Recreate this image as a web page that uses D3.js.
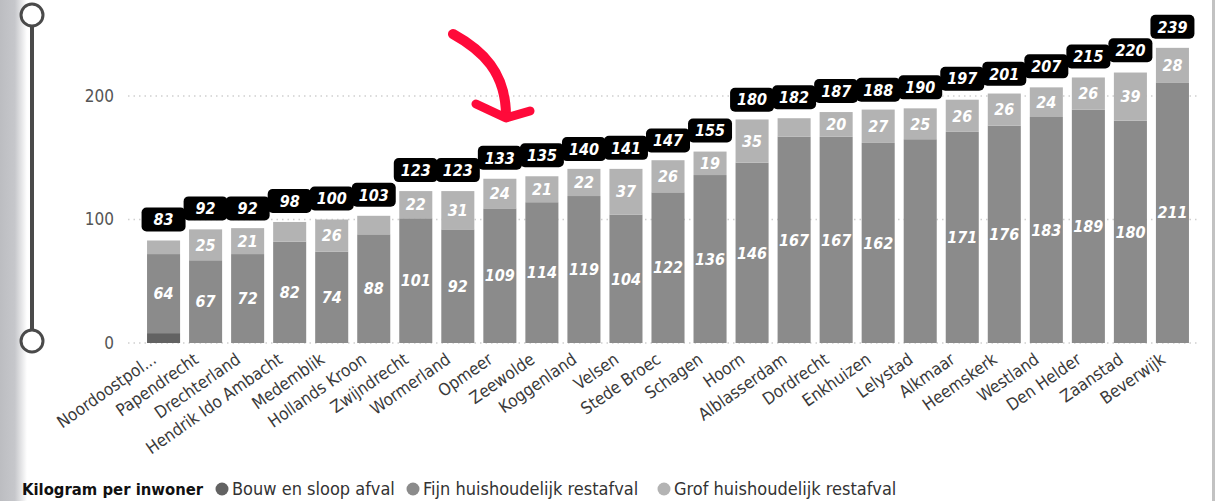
<!DOCTYPE html>
<html>
<head>
<meta charset="utf-8">
<script src="https://cdn.jsdelivr.net/npm/d3@7"></script>
<style>
    body { margin: 0; background: #fff; }
    svg { display: block; font-family: "DejaVu Sans Condensed", "DejaVu Sans", sans-serif; }
</style>
</head>
<body>
<div id="chart"></div>
<script>

// gemeentes, gesorteerd op totaal
var gemeentes = ["Noordoostpol...", "Papendrecht", "Drechterland", "Hendrik Ido Ambacht", "Medemblik",
    "Hollands Kroon", "Zwijndrecht", "Wormerland", "Opmeer", "Zeewolde", "Koggenland", "Velsen",
    "Stede Broec", "Schagen", "Hoorn", "Alblasserdam", "Dordrecht", "Enkhuizen", "Lelystad",
    "Alkmaar", "Heemskerk", "Westland", "Den Helder", "Zaanstad", "Beverwijk"];

var bouwSloop = [8, 0, 0, 0, 0, 0, 0, 0, 0, 0, 0, 0, 0, 0, 0, 0, 0, 0, 0, 0, 0, 0, 0, 0, 0];
var fijnRest  = [64, 67, 72, 82, 74, 88, 101, 92, 109, 114, 119, 104, 122, 136, 146, 167, 167, 162, 165, 171, 176, 183, 189, 180, 211];
var grofRest  = [11, 25, 21, 16, 26, 15, 22, 31, 24, 21, 22, 37, 26, 19, 35, 15, 20, 27, 25, 26, 26, 24, 26, 39, 28];
var totalen   = [83, 92, 92, 98, 100, 103, 123, 123, 133, 135, 140, 141, 147, 155, 180, 182, 187, 188, 190, 197, 201, 207, 215, 220, 239];

var yTicks = [0, 100, 200];

var reeksen = ["Bouw en sloop afval", "Fijn huishoudelijk restafval", "Grof huishoudelijk restafval"];
var kleuren = ["#626262", "#8b8b8b", "#b3b3b3"];

// labels die in het origineel niet getoond worden
var verborgen = { "Fijn huishoudelijk restafval": ["Lelystad"] };

var width = 1216, height = 501;

var svg = d3.select("#chart").append("svg")
    .attr("width", width)
    .attr("height", height);

// grijze rand links
var defs = svg.append("defs");
var grad = defs.append("linearGradient").attr("id", "randGrad");
grad.append("stop").attr("offset", "0%").attr("stop-color", "#bcbdc1");
grad.append("stop").attr("offset", "55%").attr("stop-color", "#c6c7cb");
grad.append("stop").attr("offset", "100%").attr("stop-color", "#ffffff");
svg.append("rect").attr("x", 0).attr("y", 0).attr("width", 27).attr("height", height)
    .attr("fill", "url(#randGrad)");

// rand rechts
svg.append("rect").attr("x", 1212).attr("y", 0).attr("width", 3).attr("height", height)
    .attr("fill", "#c2c2c2");

// slider
var slider = svg.append("g");
slider.append("line").attr("x1", 32).attr("x2", 32).attr("y1", 15).attr("y2", 341)
    .attr("stroke", "#4a4a4a").attr("stroke-width", 4);
[15, 341].forEach(function(cy) {
    slider.append("circle").attr("cx", 32).attr("cy", cy).attr("r", 11)
        .attr("fill", "#fff").attr("stroke", "#4a4a4a").attr("stroke-width", 3);
});

// data
var data = gemeentes.map(function(g, i) {
    var d = { gemeente: g, totaal: totalen[i] };
    d[reeksen[0]] = bouwSloop[i];
    d[reeksen[1]] = fijnRest[i];
    d[reeksen[2]] = grofRest[i];
    return d;
});

var x = d3.scaleBand()
    .domain(gemeentes)
    .range([142, 1194])
    .paddingInner(0.214)
    .paddingOuter(0.12);

var y = d3.scaleLinear()
    .domain([0, 200])
    .range([343, 96]);

var color = d3.scaleOrdinal().domain(reeksen).range(kleuren);

// gridlijnen
svg.append("g")
    .selectAll("line")
    .data(yTicks)
    .join("line")
    .attr("x1", 128).attr("x2", 1200)
    .attr("y1", d => y(d)).attr("y2", d => y(d))
    .attr("stroke", "#cfcfcf")
    .attr("stroke-width", 1.5)
    .attr("stroke-dasharray", "1.5,4");

// y-as
var yAxis = d3.axisLeft(y).tickValues(yTicks).tickSize(0).tickPadding(0);
svg.append("g")
    .attr("class", "y-axis")
    .attr("transform", "translate(114,0)")
    .call(yAxis)
    .call(g => g.select(".domain").remove())
    .selectAll("text")
    .attr("font-size", 17)
    .attr("font-family", "DejaVu Sans Condensed, sans-serif")
    .attr("fill", "#555");

// gestapelde balken
var stack = d3.stack().keys(reeksen);
var series = stack(data);

var groepen = svg.append("g")
    .selectAll("g")
    .data(series)
    .join("g")
    .attr("fill", d => color(d.key));

groepen.selectAll("rect")
    .data(d => d)
    .join("rect")
    .attr("x", d => x(d.data.gemeente))
    .attr("width", x.bandwidth())
    .attr("y", d => y(d[1]))
    .attr("height", d => y(d[0]) - y(d[1]));

// waardes in de segmenten
groepen.each(function(s) {
    var key = s.key;
    d3.select(this).selectAll("text")
        .data(s.filter(function(d) {
            var v = d[1] - d[0];
            var hide = (verborgen[key] || []).indexOf(d.data.gemeente) >= 0;
            return key !== reeksen[0] && v >= 18 && !hide;
        }))
        .join("text")
        .attr("x", d => x(d.data.gemeente) + x.bandwidth() / 2)
        .attr("y", d => (y(d[0]) + y(d[1])) / 2)
        .attr("dy", "0.36em")
        .attr("text-anchor", "middle")
        .attr("fill", "#fff")
        .attr("font-size", 16)
        .attr("font-weight", "bold")
        .attr("font-style", "italic")
        .text(d => Math.round(d[1] - d[0]));
});

// totaal labels
var tot = svg.append("g")
    .selectAll("g")
    .data(data)
    .join("g")
    .attr("transform", d => "translate(" + (x(d.gemeente) + x.bandwidth() / 2) + "," + (y(d.totaal) - 21) + ")");

tot.append("rect")
    .attr("x", -22).attr("y", -12)
    .attr("width", 44).attr("height", 24)
    .attr("rx", 5)
    .attr("fill", "#000");

tot.append("text")
    .attr("dy", "0.36em")
    .attr("text-anchor", "middle")
    .attr("fill", "#fff")
    .attr("font-size", 16)
    .attr("font-weight", "bold")
    .attr("font-style", "italic")
    .text(d => d.totaal);

// x labels
svg.append("g")
    .selectAll("text")
    .data(gemeentes)
    .join("text")
    .attr("transform", d => "translate(" + (x(d) + x.bandwidth() / 2 - 6) + ",362) rotate(-35)")
    .attr("text-anchor", "end")
    .attr("font-size", 17)
    .attr("fill", "#3a3a3a")
    .text(d => d);

// legenda
var legend = svg.append("g").attr("transform", "translate(0,495)");
legend.append("text")
    .attr("x", 22)
    .attr("font-size", 16.5)
    .attr("font-weight", "bold")
    .attr("fill", "#111")
    .text("Kilogram per inwoner");

var legX = [222, 413, 664];
reeksen.forEach(function(r, i) {
    legend.append("circle")
        .attr("cx", legX[i]).attr("cy", -6).attr("r", 6.5)
        .attr("fill", color(r));
    legend.append("text")
        .attr("x", legX[i] + 10)
        .attr("font-size", 18)
        .attr("fill", "#333")
        .text(r);
});

// rode pijl
var pijl = svg.append("g")
    .attr("fill", "none")
    .attr("stroke", "#ff0a3a")
    .attr("stroke-linecap", "round")
    .attr("stroke-linejoin", "round");
pijl.append("path")
    .attr("d", "M453,34 C482,50 506,72 506,116")
    .attr("stroke-width", 10);
pijl.append("path")
    .attr("d", "M476,104 L506,118 L530,111")
    .attr("stroke-width", 9);

</script>
</body>
</html>
